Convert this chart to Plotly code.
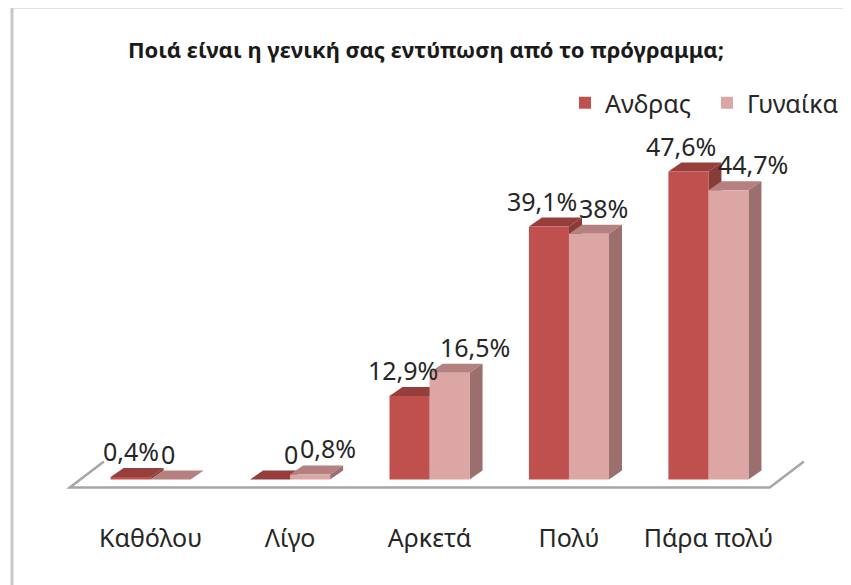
import plotly.graph_objects as go

categories = ["Καθόλου", "Λίγο", "Αρκετά", "Πολύ", "Πάρα πολύ"]
series_names = ["Ανδρας", "Γυναίκα"]
men = [0.4, 0, 12.9, 39.1, 47.6]
women = [0, 0.8, 16.5, 38, 44.7]
title_text = "Ποιά είναι η γενική σας εντύπωση από το πρόγραμμα;"

FONT = "Noto Sans"
# front / top / side colours per series
colors = {
    "Ανδρας": ("#C0504D", "#953E3B", "#8A3A37"),
    "Γυναίκα": ("#DCA6A5", "#B48180", "#9B6F6D"),
}

# the page body has an 8px margin, so the figure is a bit smaller than the window
PAGE = 8
W, H = 851 - PAGE, 585 - PAGE
L, R, T, B = 60 - PAGE, 38, 156 - PAGE, 86
XR = [-0.65, 4.75]
YR = [-3, 50]
plot_w = W - L - R
plot_h = H - T - B
ppx = plot_w / (XR[1] - XR[0])
ppy = plot_h / (YR[1] - YR[0])

bw = 0.287          # bar width (x units)
dx = 13 / ppx       # 3d depth offset
dy = 9 / ppy


def fmt(v):
    if v == 0:
        return "0"
    s = ("%.1f" % v).rstrip("0").rstrip(".")
    return s.replace(".", ",") + "%"


fig = go.Figure()
shapes = []
annotations = []

for k, (name, vals) in enumerate(zip(series_names, [men, women])):
    front, top, side = colors[name]
    off = -bw / 2 if k == 0 else bw / 2
    xs = [i + off for i in range(len(categories))]
    fig.add_trace(go.Bar(
        x=xs, y=vals, width=bw, name=name,
        marker=dict(color=front, line=dict(width=0)),
        hoverinfo="skip",
    ))
    for xc, v in zip(xs, vals):
        x0, x1 = xc - bw / 2, xc + bw / 2
        # top face
        shapes.append(dict(
            type="path", xref="x", yref="y", layer="below",
            path=f"M{x0},{v} L{x1},{v} L{x1 + dx},{v + dy} L{x0 + dx},{v + dy} Z",
            fillcolor=top, line=dict(width=0),
        ))
        # side face
        shapes.append(dict(
            type="path", xref="x", yref="y", layer="below",
            path=f"M{x1},0 L{x1 + dx},{dy} L{x1 + dx},{v + dy} L{x1},{v} Z",
            fillcolor=side, line=dict(width=0),
        ))
        # data label, meeting at the boundary between the two bars
        bx = round(xc - off) + 9 / ppx
        annotations.append(dict(
            x=bx, y=v, xref="x", yref="y", text=fmt(v), showarrow=False,
            xanchor="right" if k == 0 else "left", yanchor="middle", yshift=26,
            borderpad=0,
            font=dict(family=FONT, size=25, color="#262626"),
        ))

# floor of the 3d plot
fy0, fy1 = -1.24, 2.8
fxl, fxr, fdep = -0.58, 4.44, 0.245
shapes.append(dict(
    type="path", xref="x", yref="y", layer="below",
    path=f"M{fxl + fdep},{fy1} L{fxl},{fy0} L{fxr},{fy0} L{fxr + fdep},{fy1}",
    line=dict(color="#A6A6A6", width=2.5),
))

# chart border (top and left edges visible)
bx0 = (12 - PAGE - L) / plot_w
by1 = (H - B - (7 - PAGE)) / plot_h
shapes.append(dict(
    type="rect", xref="paper", yref="paper",
    x0=bx0, x1=1.2, y0=-0.5, y1=by1,
    line=dict(color="#C8C8C8", width=3), fillcolor="rgba(0,0,0,0)",
))

fig.update_layout(
    width=W, height=H,
    margin=dict(l=L, r=R, t=T, b=B, pad=0, autoexpand=False),
    paper_bgcolor="white", plot_bgcolor="white",
    barmode="overlay",
    font=dict(family=FONT, size=25, color="#262626"),
    title=dict(
        text="<b>" + title_text + "</b>",
        font=dict(family=FONT, size=22, color="#1a1a1a"),
        x=(426 - PAGE) / W, xref="container", xanchor="center",
        y=1 - (50 - PAGE) / H, yref="container", yanchor="middle",
    ),
    legend=dict(
        orientation="h", x=(849 - PAGE - L) / plot_w, xanchor="right",
        y=(H - B - (103 - PAGE)) / plot_h, yanchor="middle",
        font=dict(family=FONT, size=25, color="#262626"),
        bgcolor="rgba(0,0,0,0)",
        entrywidth=97, entrywidthmode="pixels",
    ),
    xaxis=dict(
        range=XR, tickvals=list(range(len(categories))), ticktext=categories,
        showgrid=False, zeroline=False, showline=False, ticks="",
        tickfont=dict(family=FONT, size=25, color="#262626"),
        ticklabelstandoff=22,
    ),
    yaxis=dict(range=YR, visible=False, showgrid=False, zeroline=False),
    shapes=shapes,
    annotations=annotations,
    showlegend=True,
)

fig.write_html("out.html")
